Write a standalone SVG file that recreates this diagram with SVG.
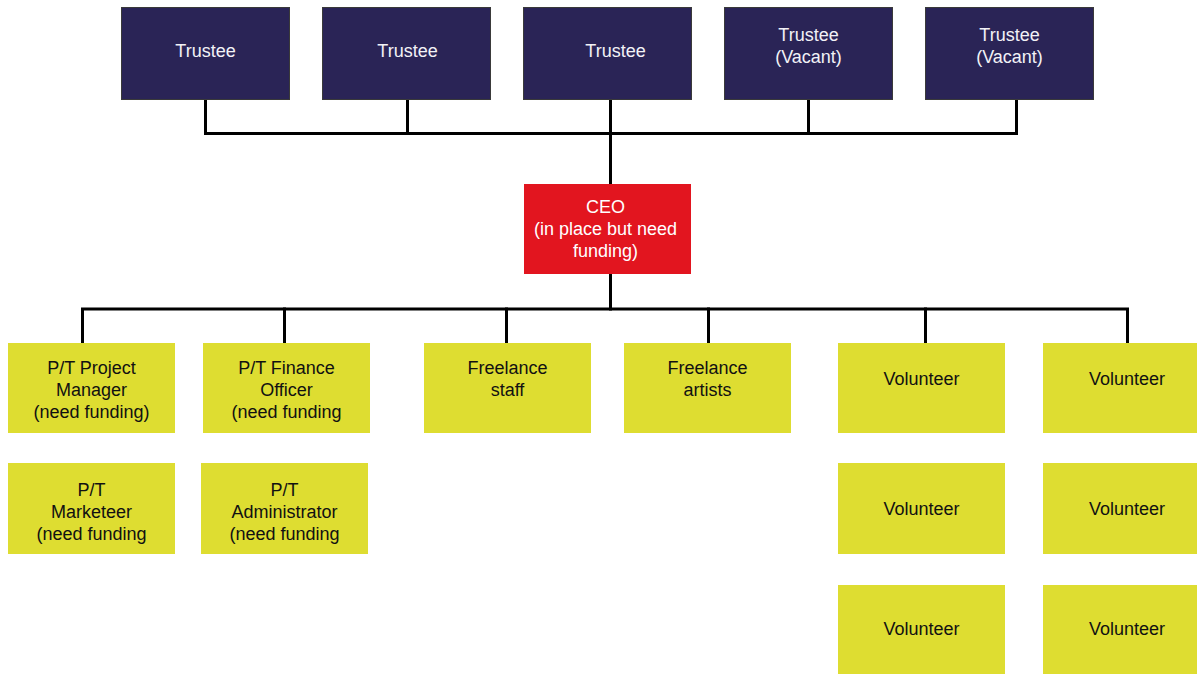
<svg xmlns="http://www.w3.org/2000/svg" width="1197" height="674" viewBox="0 0 1197 674">
<style>
.trustee rect{fill:#2a2456;stroke:#3a3a3a;stroke-width:1}
.trustee text{fill:#f2f2f6}
.ceo rect{fill:#e2151f}
.ceo text{fill:#ffffff}
.staff rect{fill:#dedd31}
.staff text{fill:#111111}
text{font-family:"Liberation Sans",Arial,sans-serif;font-size:18px;text-anchor:middle}
.conn{fill:none;stroke:#000;stroke-width:3;stroke-linejoin:miter;stroke-linecap:square}
</style>
<rect width="1197" height="674" fill="#ffffff"/>
<g id="connectors" class="conn">
<path d="M205.5 100V133.5H1016.5V100"/>
<path d="M407.5 100V133.5"/>
<path d="M610.5 100V184"/>
<path d="M808.5 100V133.5"/>
<path d="M610.5 274V309"/>
<path d="M82.5 342V309H1127.5V342"/>
<path d="M284.5 342V309"/>
<path d="M506.5 342V309"/>
<path d="M708.5 342V309"/>
<path d="M925.5 342V309"/>
</g>
<g id="trustee1" class="trustee"><rect x="121.5" y="7.5" width="168" height="92"/><text x="205.5" y="57">Trustee</text></g>
<g id="trustee2" class="trustee"><rect x="322.5" y="7.5" width="168" height="92"/><text x="407.5" y="57">Trustee</text></g>
<g id="trustee3" class="trustee"><rect x="523.5" y="7.5" width="168" height="92"/><text x="615.5" y="57">Trustee</text></g>
<g id="trustee4" class="trustee"><rect x="724.5" y="7.5" width="168" height="92"/><text x="808.5" y="41">Trustee</text><text x="808.5" y="63">(Vacant)</text></g>
<g id="trustee5" class="trustee"><rect x="925.5" y="7.5" width="168" height="92"/><text x="1009.5" y="41">Trustee</text><text x="1009.5" y="63">(Vacant)</text></g>
<g id="ceo" class="ceo"><rect x="524" y="184" width="167" height="90"/><text x="605.5" y="213">CEO</text><text x="605.5" y="235">(in place but need</text><text x="605.5" y="257">funding)</text></g>
<g id="pm" class="staff"><rect x="8" y="343" width="167" height="90"/><text x="91.5" y="374">P/T Project</text><text x="91.5" y="396">Manager</text><text x="91.5" y="418">(need funding)</text></g>
<g id="finance" class="staff"><rect x="203" y="343" width="167" height="90"/><text x="286.5" y="374">P/T Finance</text><text x="286.5" y="396">Officer</text><text x="286.5" y="418">(need funding</text></g>
<g id="freelance-staff" class="staff"><rect x="424" y="343" width="167" height="90"/><text x="507.5" y="374">Freelance</text><text x="507.5" y="396">staff</text></g>
<g id="freelance-artists" class="staff"><rect x="624" y="343" width="167" height="90"/><text x="707.5" y="374">Freelance</text><text x="707.5" y="396">artists</text></g>
<g id="volunteer1" class="staff"><rect x="838" y="343" width="167" height="90"/><text x="921.5" y="385">Volunteer</text></g>
<g id="volunteer2" class="staff"><rect x="1043" y="343" width="167" height="90"/><text x="1127" y="385">Volunteer</text></g>
<g id="marketeer" class="staff"><rect x="8" y="463" width="167" height="91"/><text x="91.5" y="496">P/T</text><text x="91.5" y="518">Marketeer</text><text x="91.5" y="540">(need funding</text></g>
<g id="administrator" class="staff"><rect x="201" y="463" width="167" height="91"/><text x="284.5" y="496">P/T</text><text x="284.5" y="518">Administrator</text><text x="284.5" y="540">(need funding</text></g>
<g id="volunteer3" class="staff"><rect x="838" y="463" width="167" height="91"/><text x="921.5" y="515">Volunteer</text></g>
<g id="volunteer4" class="staff"><rect x="1043" y="463" width="167" height="91"/><text x="1127" y="515">Volunteer</text></g>
<g id="volunteer5" class="staff"><rect x="838" y="585" width="167" height="91"/><text x="921.5" y="635">Volunteer</text></g>
<g id="volunteer6" class="staff"><rect x="1043" y="585" width="167" height="91"/><text x="1127" y="635">Volunteer</text></g>
</svg>
